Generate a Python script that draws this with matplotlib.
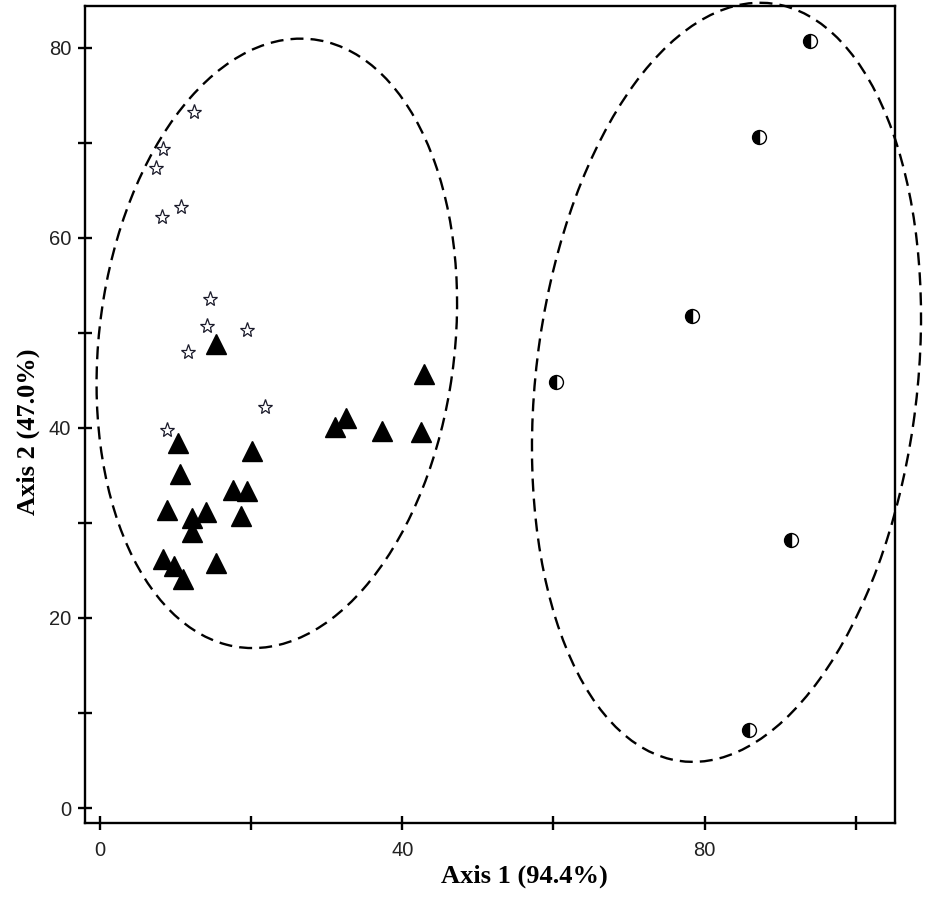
import matplotlib.pyplot as plt
from matplotlib.patches import Ellipse
from matplotlib.ticker import MultipleLocator

# group 1: open stars
star_x = [12.5, 8.3, 7.4, 10.7, 8.2, 14.6, 14.1, 19.5, 11.7, 21.8, 8.9]
star_y = [73.2, 69.4, 67.4, 63.2, 62.2, 53.6, 50.7, 50.3, 48.0, 42.2, 39.8]

# group 2: filled triangles
tri_x = [10.3, 20.1, 10.6, 17.6, 19.5, 8.9, 14.0, 12.2, 18.7, 12.2,
         8.4, 9.8, 15.3, 11.0, 15.3, 42.9, 31.1, 32.6, 37.3, 42.5]
tri_y = [38.4, 37.6, 35.2, 33.5, 33.4, 31.4, 31.2, 30.5, 30.7, 29.1,
         26.2, 25.5, 25.8, 24.1, 48.8, 45.7, 40.1, 41.0, 39.7, 39.6]

# group 3: half filled circles
circ_x = [93.9, 87.2, 78.3, 60.4, 91.4, 85.9]
circ_y = [80.7, 70.6, 51.8, 44.8, 28.2, 8.2]

# confidence ellipses: center, full width, full height, angle (data units)
ell_centers = [(23.4, 48.9), (82.9, 44.8)]
ell_widths = [64.8, 80.7]
ell_heights = [46.8, 50.2]
ell_angles = [78.1, 79.6]

fig = plt.figure(figsize=(9.25, 8.99), dpi=100)
ax = fig.add_axes([0.0919, 0.0845, 0.8757, 0.9088])

ax.plot(star_x, star_y, linestyle='none', marker='*', markersize=11,
        markerfacecolor='white', markeredgecolor='#1a1a2a', markeredgewidth=0.9)
ax.plot(tri_x, tri_y, linestyle='none', marker='^', markersize=14.5,
        markerfacecolor='black', markeredgecolor='black')
ax.plot(circ_x, circ_y, linestyle='none', marker='o', markersize=10,
        fillstyle='left', markerfacecolor='black', markerfacecoloralt='white',
        markeredgecolor='black', markeredgewidth=1.0)

for c, w, h, a in zip(ell_centers, ell_widths, ell_heights, ell_angles):
    e = Ellipse(c, w, h, angle=a, fill=False, edgecolor='black',
                linewidth=1.7, linestyle=(0, (5.5, 3)), clip_on=False)
    ax.add_patch(e)

ax.set_xlim(-1.98, 105.2)
ax.set_ylim(-1.58, 84.4)

ax.xaxis.set_major_locator(MultipleLocator(40))
ax.xaxis.set_minor_locator(MultipleLocator(20))
ax.yaxis.set_major_locator(MultipleLocator(20))
ax.yaxis.set_minor_locator(MultipleLocator(10))

ax.tick_params(which='both', direction='inout', length=10, width=1.7,
               color='black', top=False, right=False)
ax.tick_params(axis='x', which='major', pad=8)
ax.tick_params(axis='y', which='major', pad=5)
for lab in ax.get_xticklabels() + ax.get_yticklabels():
    lab.set_fontfamily('Liberation Sans')
    lab.set_fontsize(14.5)
    lab.set_color('#222222')

for sp in ax.spines.values():
    sp.set_linewidth(1.7)

ax.set_xlabel('Axis 1 (94.4%)', fontfamily='Liberation Serif',
              fontweight='bold', fontsize=19)
ax.set_ylabel('Axis 2 (47.0%)', fontfamily='Liberation Serif',
              fontweight='bold', fontsize=19)
ax.xaxis.set_label_coords(0.543, -0.051)
ax.yaxis.set_label_coords(-0.056, 0.479)

fig.savefig('out.png', dpi=100)
